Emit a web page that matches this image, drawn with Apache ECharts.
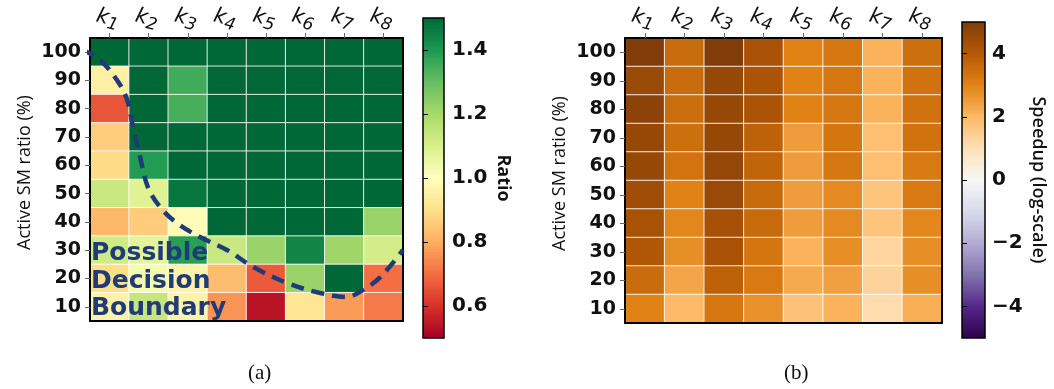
<!DOCTYPE html>
<html><head><meta charset="utf-8">
<script src="https://cdn.jsdelivr.net/npm/echarts@6/dist/echarts.min.js"></script>
<style>html,body{margin:0;padding:0;background:#fff}#c{width:1054px;height:389px}</style>
</head><body><div id="c"></div>
<script>
const kernels = ['k1','k2','k3','k4','k5','k6','k7','k8'];
const smRatios = ['10','20','30','40','50','60','70','80','90','100'];
// rows listed from top (100 %) to bottom (10 %)
const ratioRows = [
  [1.50,1.50,1.50,1.50,1.50,1.50,1.50,1.50],
  [0.95,1.50,1.35,1.50,1.50,1.50,1.50,1.50],
  [0.66,1.50,1.34,1.50,1.50,1.50,1.50,1.50],
  [0.86,1.50,1.50,1.50,1.50,1.50,1.50,1.50],
  [0.89,1.39,1.50,1.50,1.50,1.50,1.50,1.50],
  [1.13,1.08,1.47,1.50,1.50,1.50,1.50,1.50],
  [0.82,0.86,0.99,1.50,1.50,1.50,1.50,1.22],
  [1.12,1.07,1.38,1.13,1.22,1.44,1.21,1.11],
  [0.90,1.03,0.96,0.83,0.67,1.22,1.50,0.70],
  [0.96,1.14,0.96,0.76,0.54,0.92,0.77,0.72]
];
const speedupRows = [
  [4.95,3.53,4.97,4.17,3.00,3.27,2.10,3.44],
  [4.48,3.53,4.56,4.15,3.00,3.27,2.10,3.36],
  [4.75,3.49,4.56,4.15,3.00,3.27,2.10,3.36],
  [4.54,3.44,4.56,3.76,2.50,3.29,1.82,3.36],
  [4.56,3.33,4.60,3.70,2.50,3.27,1.82,3.20],
  [4.37,3.00,4.48,3.58,2.50,2.85,1.70,3.18],
  [4.21,2.90,4.25,3.58,2.50,2.85,1.70,2.90],
  [4.05,2.76,4.20,3.29,2.10,2.76,1.28,2.76],
  [3.53,2.37,3.78,3.18,2.26,2.44,1.33,2.76],
  [3.00,1.95,3.27,2.74,1.75,2.10,1.10,2.19]
];
const ratioTicks = [0.6,0.8,1.0,1.2,1.4];
const speedupTicks = [-4,-2,0,2,4];
// decision boundary annotation, in cell units (x: 0..8 columns, y: 0..10 rows from bottom)
const boundaryX = [-0.2,0.26,0.72,0.95,1.10,1.28,1.48,1.79,2.22,2.81,3.50,4.17,5.04,5.88,6.57,6.98,7.42,8.0];
const boundaryY = [9.58,9.22,8.45,7.81,6.86,5.80,4.73,4.03,3.46,2.97,2.51,1.91,1.34,0.99,0.85,1.10,1.55,2.51];

const RdYlGn = ['#a50026','#d73027','#f46d43','#fdae61','#fee08b','#ffffbf','#d9ef8b','#a6d96a','#66bd63','#1a9850','#006837'];
const PuOr_r = ['#2d004b','#542788','#8073ac','#b2abd2','#d8daeb','#f7f7f7','#fee0b6','#fdb863','#e08214','#b35806','#7f3b08'];

function toCells(rows){
  const out = [];
  rows.forEach((r,i)=>r.forEach((v,j)=>out.push([j, rows.length-1-i, v])));
  return out;
}
function grad(colors){
  return new echarts.graphic.LinearGradient(0,1,0,0, colors.map((c,i)=>({offset:i/(colors.length-1), color:c})));
}
const bold = {fontFamily:'DejaVu Sans', fontWeight:'bold', fontSize:19, color:'#111'};
const kLabel = {
  show:true, interval:0, margin:7, rotate:15, align:'center', verticalAlign:'bottom', padding:[0,10,0,0],
  formatter: v => '{k|k}{s|' + v.slice(1) + '}',
  rich:{
    k:{fontFamily:'DejaVu Sans', fontStyle:'italic', fontSize:21, color:'#111', verticalAlign:'top', lineHeight:22},
    s:{fontFamily:'DejaVu Sans', fontStyle:'italic', fontSize:17, color:'#111', verticalAlign:'top', lineHeight:18, padding:[7,0,0,0]}
  }
};
const lineOnly = {show:true, lineStyle:{color:'#000', width:2}};
const yName = 'Active SM ratio (%)';
const nameStyle = {fontFamily:'Open Sans', fontSize:18, color:'#111'};

function heatAxes(gi){
  return {
    x:[
      {gridIndex:gi, type:'category', data:kernels, position:'top', z:5,
       axisLine:lineOnly, axisTick:{show:true, alignWithLabel:true, interval:0, length:5, lineStyle:{color:'#666'}}, axisLabel:kLabel, splitLine:{show:false}},
      {gridIndex:gi, type:'category', data:kernels, position:'bottom', z:5,
       axisLine:lineOnly, axisTick:{show:false}, axisLabel:{show:false}}
    ],
    y:[
      {gridIndex:gi, type:'category', data:smRatios, position:'left', z:5,
       axisLine:lineOnly, axisTick:{show:true, alignWithLabel:true, interval:0, length:5, lineStyle:{color:'#666'}},
       axisLabel:Object.assign({margin:9, interval:0}, bold),
       name:yName, nameLocation:'middle', nameGap:56,
       nameTextStyle:Object.assign({}, nameStyle, {padding:[0,0,0,14]})},
      {gridIndex:gi, type:'category', data:smRatios, position:'right', z:5,
       axisLine:lineOnly, axisTick:{show:false}, axisLabel:{show:false}}
    ]
  };
}
const ha = heatAxes(0), hb = heatAxes(3);

function barRender(params, api){
  const p0 = api.coord([0, api.value(1)]);
  const p1 = api.coord([1, api.value(2)]);
  return {type:'rect', shape:{x:p0[0], y:p0[1], width:p1[0]-p0[0], height:p1[1]-p0[1]},
    style:{fill: api.value(3) === 0 ? grad(RdYlGn) : grad(PuOr_r), stroke:'#000', lineWidth:1.5}};
}

const chart = echarts.init(document.getElementById('c'), null, {renderer:'canvas'});
chart.setOption({
  animation:false,
  backgroundColor:'#fff',
  grid:[
    {left:90, top:38, width:313, height:283},
    {left:90, top:38, width:313, height:283},
    {left:423, top:18, width:21, height:320},
    {left:625, top:38, width:317, height:285},
    {left:962, top:22, width:23, height:316}
  ],
  xAxis:[
    ha.x[0], ha.x[1],
    {gridIndex:1, type:'value', min:0, max:8, show:false},
    {gridIndex:2, type:'value', min:0, max:1, show:false},
    hb.x[0], hb.x[1],
    {gridIndex:4, type:'value', min:0, max:1, show:false}
  ],
  yAxis:[
    ha.y[0], ha.y[1],
    {gridIndex:1, type:'value', min:0, max:10, show:false},
    {gridIndex:2, type:'value', min:0.5, max:1.5, position:'right', z:5,
     axisLine:{show:false}, splitLine:{show:false},
     axisTick:{show:true, length:5, customValues:ratioTicks, lineStyle:{color:'#000'}},
     axisLabel:Object.assign({margin:8, customValues:ratioTicks, formatter:v=>v.toFixed(1)}, bold, {fontSize:20}),
     name:'Ratio', nameLocation:'middle', nameRotate:-90, nameGap:50,
     nameTextStyle:Object.assign({}, nameStyle, {fontWeight:'bold'})},
    hb.y[0], hb.y[1],
    {gridIndex:4, type:'value', min:-5, max:5, position:'right', z:5,
     axisLine:{show:false}, splitLine:{show:false},
     axisTick:{show:true, length:5, customValues:speedupTicks, lineStyle:{color:'#000'}},
     axisLabel:Object.assign({margin:7, customValues:speedupTicks, formatter:v=>String(v).replace('-','\u2212')}, bold, {fontSize:20}),
     name:'Speedup (log-scale)', nameLocation:'middle', nameRotate:-90, nameGap:44,
     nameTextStyle:Object.assign({}, nameStyle, {fontWeight:600})}
  ],
  visualMap:[
    {type:'continuous', show:false, min:0.5, max:1.5, seriesIndex:0, inRange:{color:RdYlGn}},
    {type:'continuous', show:false, min:-5, max:5, seriesIndex:2, inRange:{color:PuOr_r}}
  ],
  series:[
    {type:'heatmap', xAxisIndex:0, yAxisIndex:0, data:toCells(ratioRows),
     itemStyle:{borderColor:'rgba(255,255,255,0.85)', borderWidth:1}},
    {type:'line', xAxisIndex:2, yAxisIndex:2, data:boundaryX.map((x,i)=>[x, boundaryY[i]]),
     smooth:0.35, symbol:'none', clip:false, z:10,
     lineStyle:{color:'#1f3c78', width:4.5, type:[13,8]}},
    {type:'heatmap', xAxisIndex:4, yAxisIndex:4, data:toCells(speedupRows),
     itemStyle:{borderColor:'rgba(255,255,255,0.85)', borderWidth:1}},
    {type:'custom', xAxisIndex:3, yAxisIndex:3, renderItem:barRender, data:[[0,1.5,0.5,0]], z:3},
    {type:'custom', xAxisIndex:6, yAxisIndex:6, renderItem:barRender, data:[[0,5,-5,1]], z:3}
  ],
  graphic:[
    {type:'text', left:91, top:241, z:20, style:{text:'Possible', font:'bold 25px "DejaVu Sans"', fill:'#1f3c78'}},
    {type:'text', left:91, top:269, z:20, style:{text:'Decision', font:'bold 25px "DejaVu Sans"', fill:'#1f3c78'}},
    {type:'text', left:91, top:296, z:20, style:{text:'Boundary', font:'bold 25px "DejaVu Sans"', fill:'#1f3c78'}},
    {type:'text', left:248, top:363, style:{text:'(a)', font:'21px "Liberation Serif"', fill:'#111'}},
    {type:'text', left:784, top:363, style:{text:'(b)', font:'21px "Liberation Serif"', fill:'#111'}}
  ]
});
</script>
</body></html>
